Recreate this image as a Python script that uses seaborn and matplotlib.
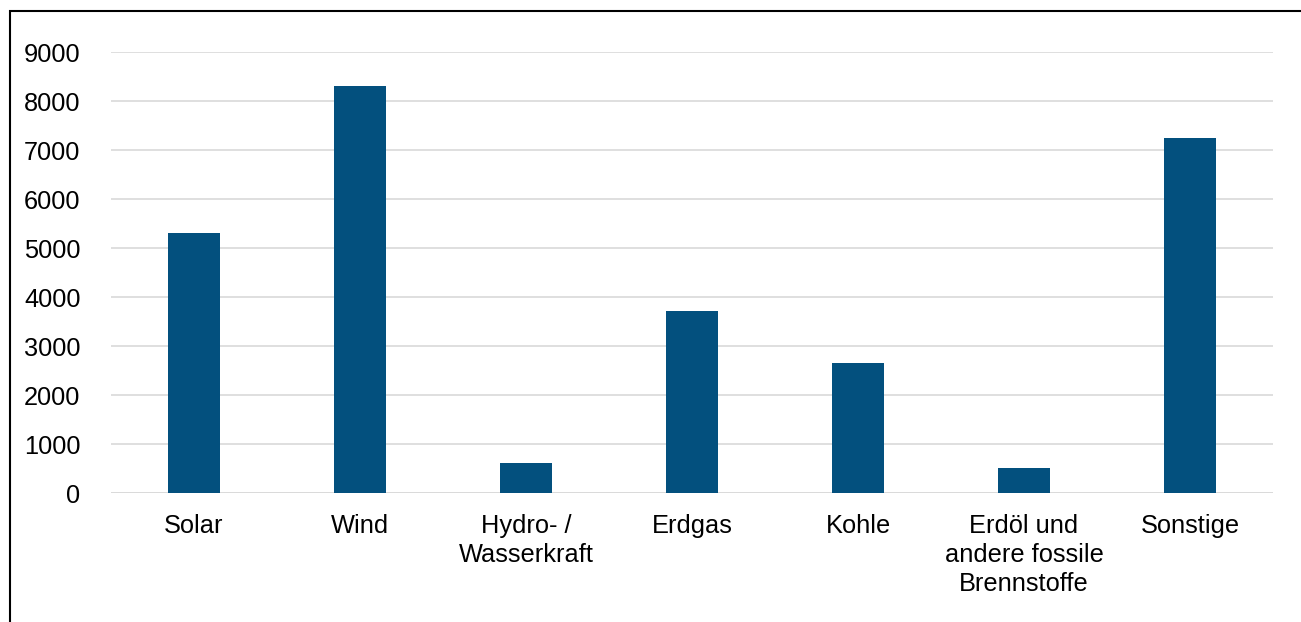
import matplotlib
matplotlib.use("Agg")
import matplotlib.pyplot as plt
import seaborn as sns
import pandas as pd
from matplotlib.patches import Rectangle

categories = ["Solar", "Wind", "Hydro- /\nWasserkraft", "Erdgas", "Kohle",
              "Erdöl und\nandere fossile\nBrennstoffe", "Sonstige"]
values = [5320, 8320, 625, 3725, 2665, 525, 7255]
y_ticks = [0, 1000, 2000, 3000, 4000, 5000, 6000, 7000, 8000, 9000]

sns.set_theme(style="white")
plt.rcParams["font.family"] = ["Liberation Sans", "DejaVu Sans"]

W, H = 1301, 622
fig = plt.figure(figsize=(W / 100, H / 100), dpi=100)
ax = fig.add_axes([111 / W, 1 - 493.3 / H, (1273 - 111) / W, (493.3 - 52.3) / H])

df = pd.DataFrame({"Kategorie": categories, "Wert": values})
sns.barplot(data=df, x="Kategorie", y="Wert", color="#03507E", width=0.31,
            saturation=1, linewidth=0, ax=ax)

ax.set_ylim(0, 9000)
ax.set_xlim(-0.5, len(categories) - 0.5)
ax.set_yticks(y_ticks)
ax.set_yticklabels([str(t) for t in y_ticks])
ax.yaxis.grid(True, color="#D9D9D9", linewidth=1.2)
ax.set_axisbelow(True)
for s in ["top", "right", "left", "bottom"]:
    ax.spines[s].set_visible(False)
ax.axhline(0, color="#D9D9D9", linewidth=1.2, zorder=0.5)
ax.set_xlabel("")
ax.set_ylabel("")
ax.tick_params(axis="y", length=0, pad=22, labelsize=18.3, labelcolor="black")
ax.tick_params(axis="x", length=0, pad=15, labelsize=18.3, labelcolor="black")
for lbl in ax.get_xticklabels():
    lbl.set_linespacing(1.25)

# outer frame around the chart area
fig.patches.append(Rectangle((9.5 / W, -0.1), 1.2, 1 - 10.5 / H + 0.1,
                             transform=fig.transFigure, fill=False,
                             edgecolor="black", linewidth=1.5))

fig.savefig("out.png", dpi=100)
